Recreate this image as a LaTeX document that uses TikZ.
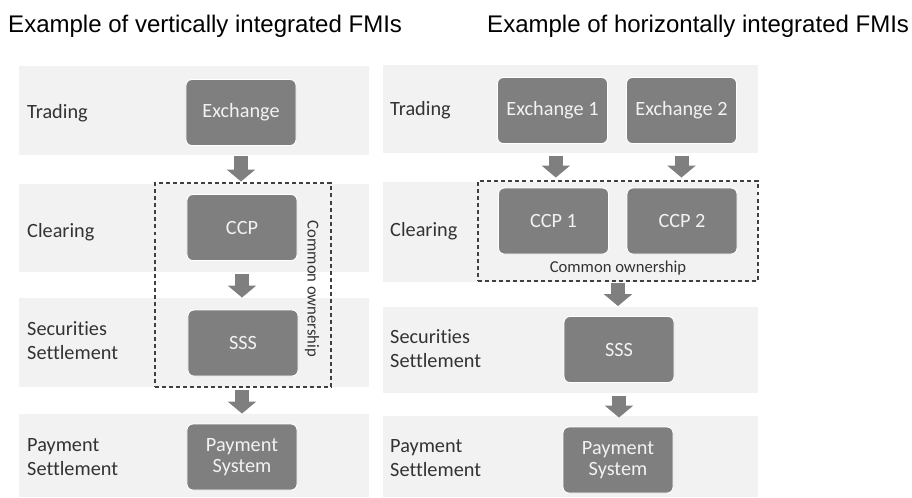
\documentclass[tikz,border=0pt]{standalone}
\usepackage{fontspec}
\setmainfont{Carlito}[Ligatures=NoCommon]
\newfontfamily\titlefont{Liberation Sans}
\usetikzlibrary{arrows.meta}

\definecolor{bandgray}{HTML}{F2F2F2}
\definecolor{boxgray}{HTML}{7F7F7F}
\definecolor{linegray}{HTML}{404040}
\definecolor{labelgray}{HTML}{333333}

\begin{document}
\begin{tikzpicture}[x=0.03cm, y=-0.03cm,
	band/.style={fill=bandgray},
	fmi/.style={fill=boxgray, draw=white, line width=0.8pt, rounded corners=5pt,
		minimum width=3.3cm, minimum height=1.98cm, inner sep=0pt,
		text=bandgray, align=center, font=\fontsize{17.3}{18.5}\selectfont},
	layer/.style={anchor=west, align=left, inner sep=0pt, text=labelgray,
		font=\fontsize{17.3}{20.5}\selectfont},
	owner/.style={draw=linegray, dash pattern=on 3.4pt off 2.6pt, line width=1.3pt, inner sep=0pt},
	ownlabel/.style={inner sep=0pt, text=labelgray, font=\fontsize{14.2}{16}\selectfont},
	flow/.style={draw=boxgray, line width=0.42cm, -{Triangle[width=0.84cm 0 0, length=0.36cm 0 0]}},
	title/.style={anchor=base west, inner sep=0pt, font=\titlefont\fontsize{20.5}{24}\selectfont}]

	\useasboundingbox (0,0) rectangle (912,497);

	% titles
	\node[title] (vtitle) at (8,32) {Example of vertically integrated FMIs};
	\node[title] (htitle) at (487,32) {Example of horizontally integrated FMIs};

	% layer bands
	\fill[band] (19,66) rectangle (369,155);
	\fill[band] (19,184) rectangle (369,272);
	\fill[band] (19,298) rectangle (369,387);
	\fill[band] (19,414) rectangle (369,497);

	\fill[band] (383,65) rectangle (758,153);
	\fill[band] (383,182) rectangle (758,282);
	\fill[band] (383,307) rectangle (758,393);
	\fill[band] (383,416) rectangle (758,497);

	% layer labels
	\node[layer] (vtrade) at (27,113) {Trading};
	\node[layer] (vclear) at (27,232) {Clearing};
	\node[layer] (vsecur) at (27,341) {Securities\\Settlement};
	\node[layer] (vpaym) at (27,457) {Payment\\Settlement};

	\node[layer] (htrade) at (390,110) {Trading};
	\node[layer] (hclear) at (390,231) {Clearing};
	\node[layer] (hsecur) at (390,349) {Securities\\Settlement};
	\node[layer] (hpaym) at (390,458) {Payment\\Settlement};

	% vertically integrated
	\node[fmi] (exch) at (241,112.5) {Exchange};
	\node[fmi] (ccp) at (242,227.5) {CCP};
	\node[fmi] (sss) at (243,343) {SSS};
	\node[fmi] (pay) at (242,457) {Payment\\System};

	\node[owner, minimum width=5.28cm, minimum height=6.12cm] (vown) at (243,285) {};
	\node[ownlabel, rotate=-90] at (312,289) {Common ownership};

	% horizontally integrated
	\node[fmi] (exa) at (552.5,110.5) {Exchange 1};
	\node[fmi] (exb) at (681.5,110.5) {Exchange 2};
	\node[fmi] (ccpa) at (553.5,221) {CCP 1};
	\node[fmi] (ccpb) at (682,221) {CCP 2};
	\node[fmi] (hsss) at (619,349.5) {SSS};
	\node[fmi] (hpay) at (618,460) {Payment\\System};

	\node[owner, minimum width=8.4cm, minimum height=3cm] (hown) at (618,231) {};
	\node[ownlabel] at (618,268) {Common ownership};

	% flows
	\draw[flow, shorten <=0.315cm, shorten >=0.375cm] (exch.south) -- (exch.south |- ccp.north);
	\draw[flow, shorten <=0.405cm, shorten >=0.36cm] (ccp.south) -- (ccp.south |- sss.north);
	\draw[flow, shorten <=0.06cm, shorten >=0.3cm] (vown.south -| pay.north) -- (pay.north);

	\draw[flow, shorten <=0.375cm, shorten >=0.3cm] ([xshift=0.1cm]exa.south) -- ([xshift=0.1cm]exa.south |- ccpa.north);
	\draw[flow, shorten <=0.375cm, shorten >=0.3cm] (exb.south) -- (exb.south |- ccpb.north);
	\draw[flow, shorten <=0.03cm, shorten >=0.3cm] (hown.south) -- (hown.south |- hsss.north);
	\draw[flow, shorten <=0.39cm, shorten >=0.27cm] (hsss.south) -- (hsss.south |- hpay.north);

\end{tikzpicture}
\end{document}
